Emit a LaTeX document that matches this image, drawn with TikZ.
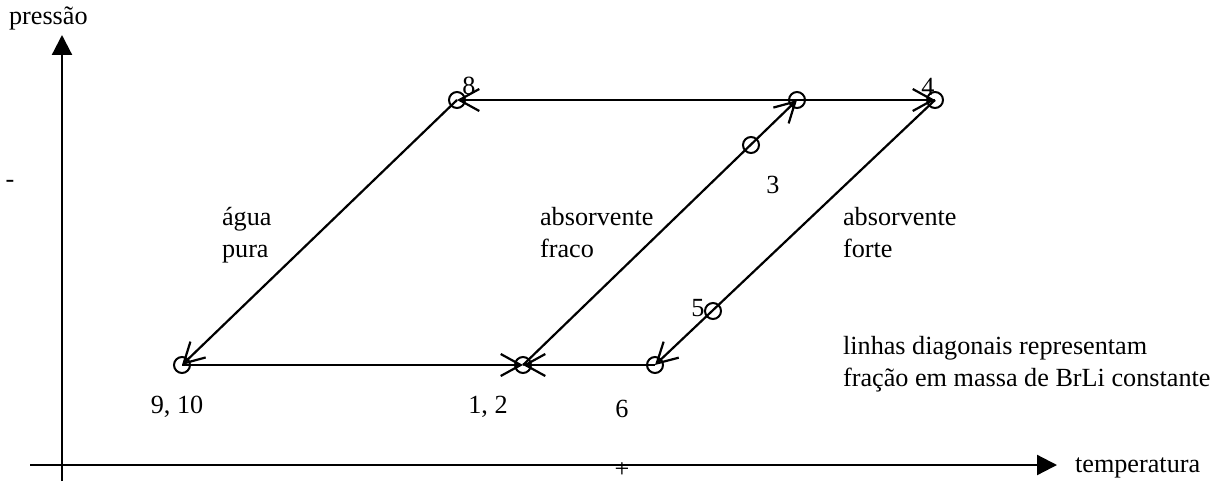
\documentclass[tikz,border=0pt]{standalone}
\usepackage{fontspec}
\setmainfont{Liberation Serif}
\usetikzlibrary{arrows.meta}

\begin{document}
\begin{tikzpicture}[x=0.5pt,y=-0.5pt,
    every node/.style={font=\fontsize{13.1}{16}\selectfont},
    ligne/.style={line width=1.1pt},
    fleche/.style={ligne,-{Straight Barb[length=10pt,width=11pt,line width=1.1pt]}},
    axe/.style={ligne,-{Triangle[length=10pt,width=10pt]}},
    etat/.style={circle,draw,line width=1pt,minimum size=8pt,inner sep=0pt}]
  \useasboundingbox (0,0) rectangle (1218,481);

  % Axes
  \coordinate (O1) at (62,481);
  \coordinate (Ytop) at (62,35);
  \coordinate (X0) at (30,465);
  \coordinate (Xend) at (1057,465);
  \draw[axe] (O1) -- (Ytop);
  \draw[axe] (X0) -- (Xend);
  \node[anchor=west] (pres) at (2,18) {pressão};
  \node[anchor=west] (temp) at (1068,468) {temperatura};
  \node (moins) at (10,184) {-};
  \node (plus) at (622,470) {+};

  % Etats du cycle
  \node[etat] (p8) at (457,100) {};
  \node[etat] (p7) at (797,100) {};
  \node[etat] (p4) at (935,100) {};
  \node[etat] (p3) at (751,145) {};
  \node[etat] (p5) at (713,311) {};
  \node[etat] (p9) at (182,365) {};
  \node[etat] (p1) at (523,365) {};
  \node[etat] (p6) at (655,365) {};

  % Numeros des etats
  \node (n8) at (469,86) {8};
  \node (n4) at (928,87) {4};
  \node (n3) at (773,185) {3};
  \node (n5) at (698,308) {5};
  \node (n9) at (177,407) {9, 10};
  \node (n1) at (488,407) {1, 2};
  \node (n6) at (622,409) {6};

  % Lignes du cycle
  \draw[fleche] (p4.center) -- (p8.center);
  \draw[fleche] (p8.center) -- (p9.center);
  \draw[fleche] (p9.center) -- (p1.center);
  \draw[fleche] (p6.center) -- (p1.center);
  \draw[fleche] (p1.center) -- (p7.center);
  \draw[fleche] (p7.center) -- (p4.center);
  \draw[fleche] (p4.center) -- (p6.center);

  % Textes
  \node[anchor=north west,align=left] (agua) at (215,200) {água\\pura};
  \node[anchor=north west,align=left] (fraco) at (533,200) {absorvente\\fraco};
  \node[anchor=north west,align=left] (forte) at (836,200) {absorvente\\forte};
  \node[anchor=north west,align=left] (diag) at (836,329) {linhas diagonais representam\\fração em massa de BrLi constante};
\end{tikzpicture}
\end{document}
